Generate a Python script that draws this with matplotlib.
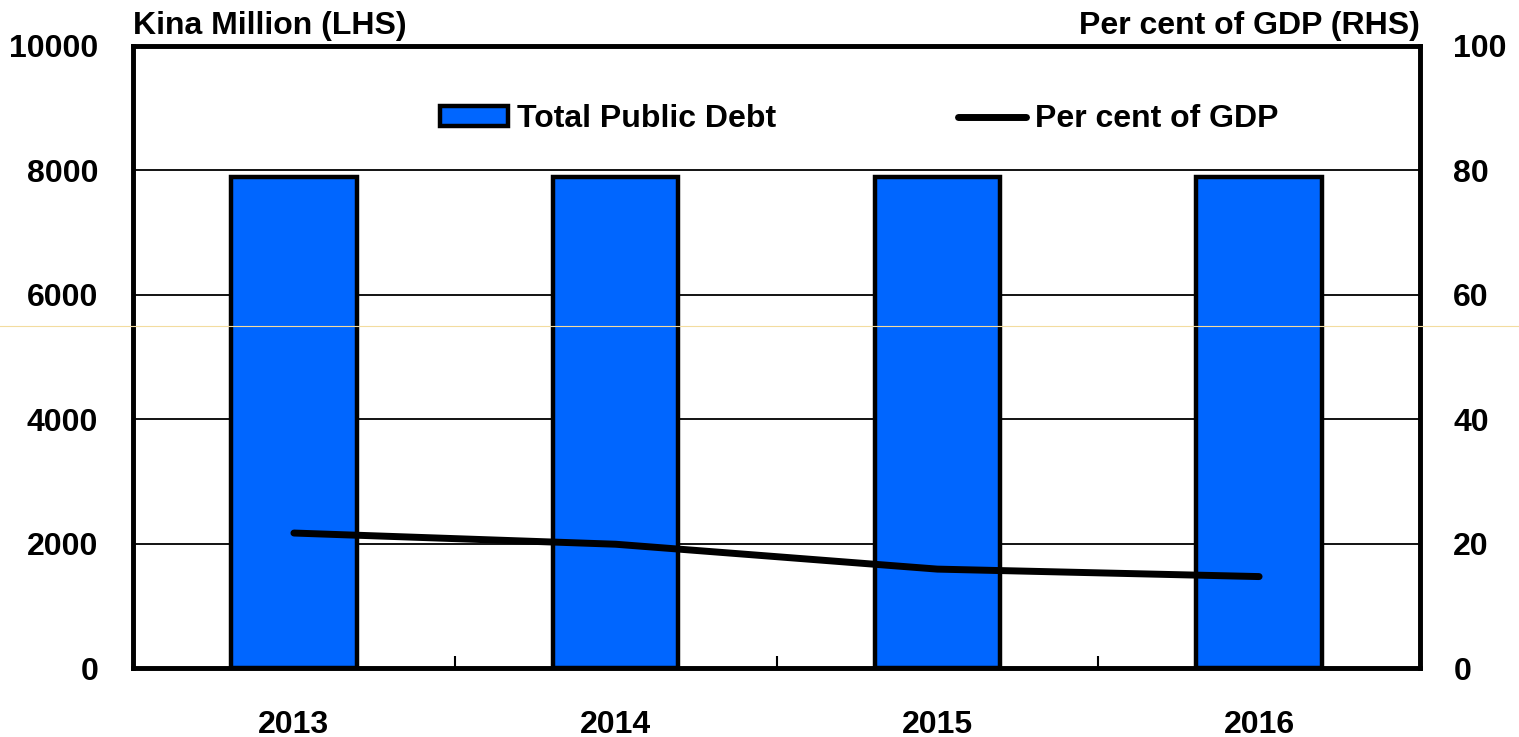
import matplotlib
matplotlib.use('Agg')
import matplotlib.pyplot as plt
from matplotlib.lines import Line2D
import numpy as np

plt.rcParams['font.family'] = ['Liberation Sans', 'DejaVu Sans']
plt.rcParams['font.weight'] = 'bold'

years = ['2013', '2014', '2015', '2016']
total_debt = [7890, 7890, 7890, 7890]          # Kina million (LHS)
pct_gdp = [21.7, 19.9, 15.9, 14.7]             # per cent of GDP (RHS)
left_ticks = [0, 2000, 4000, 6000, 8000, 10000]
right_ticks = [0, 20, 40, 60, 80, 100]

FS = 23

fig = plt.figure(figsize=(15.19, 7.37), dpi=100)
ax = fig.add_axes([0.0876, 0.0936, 0.8472, 0.844])
ax2 = ax.twinx()

x = np.arange(len(years))
ax.set_axisbelow(True)
ax.yaxis.grid(True, color='black', linewidth=1.3)
bars = ax.bar(x, total_debt, width=0.39, color='#0066ff', edgecolor='black',
              linewidth=3.2, label='Total Public Debt', zorder=2)
ax.set_ylim(0, 10000)
ax.set_xlim(-0.5, len(years) - 0.5)
ax.set_yticks(left_ticks)
ax.set_yticklabels([str(v) for v in left_ticks], fontsize=FS, fontweight='bold')

# years as labels at centres, small inward ticks at category boundaries
ax.set_xticks(x)
ax.set_xticklabels(years, fontsize=FS, fontweight='bold')
ax.tick_params(axis='x', which='major', length=0, pad=30)
ax.set_xticks(x[:-1] + 0.5, minor=True)
ax.tick_params(axis='x', which='minor', direction='in', length=9, width=1.5)
ax.tick_params(axis='y', length=0, pad=25)

line, = ax2.plot(x, pct_gdp, color='black', linewidth=5,
                 solid_capstyle='round', label='Per cent of GDP')
ax2.set_ylim(0, 100)
ax2.set_yticks(right_ticks)
ax2.set_yticklabels([str(v) for v in right_ticks], fontsize=FS, fontweight='bold')
ax2.tick_params(axis='y', length=0, pad=24)

for a in (ax, ax2):
    for s in a.spines.values():
        s.set_linewidth(3.3)
        s.set_color('black')

ax.text(0, 1.008, 'Kina Million (LHS)', transform=ax.transAxes, ha='left',
        va='bottom', fontsize=FS, fontweight='bold')
ax.text(1, 1.008, 'Per cent of GDP (RHS)', transform=ax.transAxes, ha='right',
        va='bottom', fontsize=FS, fontweight='bold')

leg = ax2.legend([bars, line], ['Total Public Debt', 'Per cent of GDP'], ncol=2,
                 loc='center left', bbox_to_anchor=(0.2385, 0.882),
                 frameon=False, borderpad=0, borderaxespad=0,
                 handlelength=2.13, handleheight=0.55, handletextpad=0.28,
                 columnspacing=5.7, prop={'weight': 'bold', 'size': FS})

# faint scan line across the picture
fig.add_artist(Line2D([0, 1], [1 - 326 / 737, 1 - 326 / 737], transform=fig.transFigure,
                      color='#f3dca0', linewidth=0.8, zorder=10))

fig.savefig('out.png', dpi=100)
